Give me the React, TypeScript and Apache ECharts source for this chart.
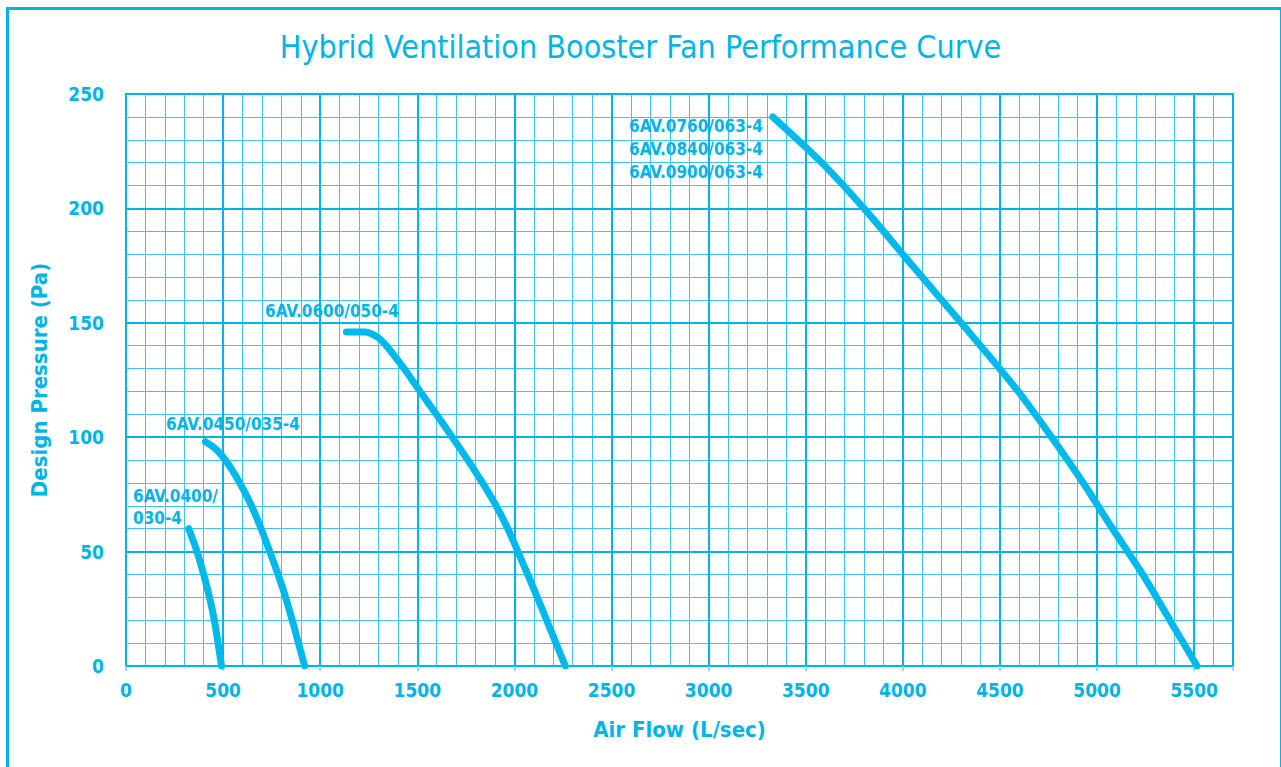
import React, { useEffect, useRef } from "react";
import * as echarts from "echarts";

const TITLE = "Hybrid Ventilation Booster Fan Performance Curve";
const X_NAME = "Air Flow (L/sec)";
const Y_NAME = "Design Pressure (Pa)";

const curve0400: number[][] = [
  [323, 60], [345, 55], [366, 50], [400, 40], [430, 30], [455, 20], [474, 10], [492, 0],
];
const curve0450: number[][] = [
  [409, 98], [460, 95], [512, 90], [586, 80], [646, 70], [696, 60], [740, 50],
  [783, 40], [822, 30], [856, 20], [888, 10], [920, 0],
];
const curve0600: number[][] = [
  [1135, 146], [1230, 146], [1290, 144], [1330, 141], [1378, 136], [1432, 130],
  [1514, 120], [1598, 110], [1680, 100], [1760, 90], [1836, 80], [1906, 70],
  [1966, 60], [2018, 50], [2068, 40], [2118, 30], [2166, 20], [2214, 10], [2262, 0],
];
const curve0760: number[][] = [
  [3330, 240], [3582, 220], [3800, 200], [3999, 180], [4200, 160], [4400, 140],
  [4594, 120], [4766, 100], [4929, 80], [5080, 60], [5235, 40], [5375, 20], [5515, 0],
];

const labels0400 = ["6AV.0400/", "030-4"];
const labels0450 = ["6AV.0450/035-4"];
const labels0600 = ["6AV.0600/050-4"];
const labels0760 = ["6AV.0760/063-4", "6AV.0840/063-4", "6AV.0900/063-4"];

const BLUE = "#00b4e8";
const MINOR = "#3ec5ee";
const FONT = "'Liberation Sans Narrow', 'DejaVu Sans Condensed', sans-serif";

export default function App() {
  const ref = useRef<HTMLDivElement>(null);
  useEffect(() => {
    if (!ref.current) return;
    const chart = echarts.init(ref.current, null, { renderer: "svg" });
    const lineSeries = (name: string, data: number[][]) => ({
      name,
      type: "line",
      data,
      smooth: 0.3,
      showSymbol: false,
      symbol: "none",
      xAxisIndex: 0,
      yAxisIndex: 0,
      z: 5,
      lineStyle: { color: "#00b9ea", width: 7, cap: "round", join: "round" },
    });
    const textBlock = (lines: string[], left: number, top: number, lh: number) =>
      lines.map((t, i) => ({
        type: "text",
        left,
        top: top + i * lh,
        z: 10,
        style: { text: t, fill: BLUE, font: `bold 17px ${FONT}` },
      }));
    chart.setOption({
      animation: false,
      title: {
        text: TITLE,
        left: "center",
        top: 26,
        textStyle: { color: BLUE, fontFamily: FONT, fontSize: 32, fontWeight: 500 },
      },
      grid: { left: 126, top: 94, right: 48, bottom: 101, show: true, borderColor: BLUE, borderWidth: 2 },
      xAxis: [
        {
          type: "value", min: 0, max: 5700, interval: 500, z: 3,
          name: X_NAME, nameLocation: "middle", nameGap: 52,
          nameTextStyle: { color: BLUE, fontFamily: FONT, fontSize: 22, fontWeight: "bold" },
          axisLine: { show: true, lineStyle: { color: BLUE, width: 2 } },
          axisTick: { show: true, length: 5, lineStyle: { color: "#6fd3f2", width: 1.5 } },
          axisLabel: {
            color: BLUE, fontFamily: FONT, fontSize: 19, fontWeight: "bold", margin: 14,
            formatter: (v: number) => (v % 500 === 0 ? String(v) : ""),
          },
          splitLine: { show: true, lineStyle: { color: BLUE, width: 2 } },
        },
        {
          type: "value", min: 0, max: 5700, interval: 100, z: 1, position: "bottom",
          axisLine: { show: false }, axisTick: { show: false }, axisLabel: { show: false },
          splitLine: { show: true, lineStyle: { color: MINOR, width: 1 } },
        },
      ],
      yAxis: [
        {
          type: "value", min: 0, max: 250, interval: 50, z: 3,
          name: Y_NAME, nameLocation: "middle", nameGap: 76,
          nameTextStyle: { color: BLUE, fontFamily: FONT, fontSize: 22, fontWeight: "bold" },
          axisLine: { show: true, lineStyle: { color: BLUE, width: 2 } },
          axisTick: { show: false },
          axisLabel: { color: BLUE, fontFamily: FONT, fontSize: 19, fontWeight: "bold", margin: 22 },
          splitLine: { show: true, lineStyle: { color: BLUE, width: 2 } },
        },
        {
          type: "value", min: 0, max: 250, interval: 10, z: 1,
          axisLine: { show: false }, axisTick: { show: false }, axisLabel: { show: false },
          splitLine: { show: true, lineStyle: { color: MINOR, width: 1 } },
        },
      ],
      series: [
        lineSeries("6AV.0400/030-4", curve0400),
        lineSeries("6AV.0450/035-4", curve0450),
        lineSeries("6AV.0600/050-4", curve0600),
        lineSeries("6AV.0760/063-4", curve0760),
      ],
      graphic: [
        { type: "rect", left: 5, top: 6, shape: { width: 1274, height: 820 }, style: { fill: "none", stroke: BLUE, lineWidth: 3 }, z: 0 },
        ...textBlock(labels0400, 133, 487, 22),
        ...textBlock(labels0450, 166, 415, 22),
        ...textBlock(labels0600, 265, 302, 22),
        ...textBlock(labels0760, 629, 117, 23),
      ],
    });
    return () => chart.dispose();
  }, []);
  return (
    <div
      ref={ref}
      style={{ position: "fixed", left: 0, top: 0, width: 1281, height: 767, background: "#fff" }}
    />
  );
}
